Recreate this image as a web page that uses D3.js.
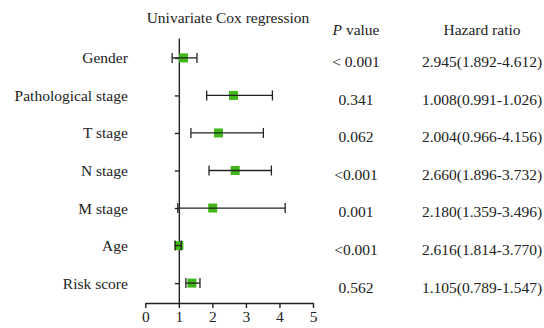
<!DOCTYPE html>
<html>
<head>
<meta charset="utf-8">
<script src="https://cdn.jsdelivr.net/npm/d3@7"></script>
<style>
  body { margin: 0; background: #fff; }
  svg text { font-family: "Liberation Serif", "DejaVu Serif", serif; fill: #222; }
</style>
</head>
<body>
<div id="chart"></div>
<script>
const W = 544, H = 328;
const FS = "15.5px";

const categories = ["Gender", "Pathological stage", "T stage", "N stage", "M stage", "Age", "Risk score"];
// values as plotted in the figure
const estimates = [1.14, 2.63, 2.18, 2.68, 2.01, 1.00, 1.39];
const lowers    = [0.80, 1.83, 1.36, 1.90, 0.97, 0.89, 1.21];
const uppers    = [1.54, 3.79, 3.52, 3.76, 4.17, 1.07, 1.63];
// table text
const pValues = ["< 0.001", "0.341", "0.062", "<0.001", "0.001", "<0.001", "0.562"];
const hrLabels = ["2.945(1.892-4.612)", "1.008(0.991-1.026)", "2.004(0.966-4.156)", "2.660(1.896-3.732)",
                  "2.180(1.359-3.496)", "2.616(1.814-3.770)", "1.105(0.789-1.547)"];
const xTicks = [0, 1, 2, 3, 4, 5];

const svg = d3.select("#chart").append("svg")
  .attr("width", W)
  .attr("height", H);

const x = d3.scaleLinear().domain([0, 5]).range([145.3, 313]);
const y = d3.scalePoint().domain(categories).range([38, 303]).padding(0.53);

// x axis
const xAxis = svg.append("g")
  .attr("transform", `translate(0,303)`)
  .call(d3.axisBottom(x).tickValues(xTicks).tickFormat(d3.format("d")).tickSize(5).tickSizeOuter(0).tickPadding(3));
xAxis.selectAll("text").style("font-size", FS);

// y axis sits at x = 1
const yAxis = svg.append("g")
  .attr("transform", `translate(${x(1)},0)`)
  .call(d3.axisLeft(y).tickSize(4).tickSizeOuter(0).tickPadding(47));
yAxis.selectAll("text").style("font-size", FS);

svg.selectAll(".domain, .tick line").attr("stroke", "#222").attr("stroke-width", 1.4);

const rows = categories.map((c, i) => ({ c, est: estimates[i], lo: lowers[i], hi: uppers[i] }));

// squares
svg.selectAll("rect.pt").data(rows).enter().append("rect")
  .attr("class", "pt")
  .attr("x", d => x(d.est) - 4.5)
  .attr("y", d => y(d.c) - 4.5)
  .attr("width", 9)
  .attr("height", 9)
  .attr("fill", "#42b71a");

// whiskers
const wg = svg.append("g").attr("stroke", "#222").attr("stroke-width", 1.3);
wg.selectAll("line.w").data(rows).enter().append("line")
  .attr("x1", d => x(d.lo)).attr("x2", d => x(d.hi))
  .attr("y1", d => y(d.c)).attr("y2", d => y(d.c));
wg.selectAll("line.lc").data(rows).enter().append("line")
  .attr("x1", d => x(d.lo)).attr("x2", d => x(d.lo))
  .attr("y1", d => y(d.c) - 5).attr("y2", d => y(d.c) + 5);
wg.selectAll("line.hc").data(rows).enter().append("line")
  .attr("x1", d => x(d.hi)).attr("x2", d => x(d.hi))
  .attr("y1", d => y(d.c) - 5).attr("y2", d => y(d.c) + 5);

// title
svg.append("text")
  .attr("x", 228).attr("y", 23)
  .attr("text-anchor", "middle")
  .style("font-size", FS)
  .text("Univariate Cox regression");

// table headers
const ph = svg.append("text")
  .attr("x", 356).attr("y", 35)
  .attr("text-anchor", "middle")
  .style("font-size", FS);
ph.append("tspan").style("font-style", "italic").text("P");
ph.append("tspan").text(" value");

svg.append("text")
  .attr("x", 482).attr("y", 35)
  .attr("text-anchor", "middle")
  .style("font-size", FS)
  .text("Hazard ratio");

// table values
svg.selectAll("text.pv").data(pValues).enter().append("text")
  .attr("class", "pv")
  .attr("x", 356)
  .attr("y", (d, i) => y(categories[i]) + 4)
  .attr("dy", "0.35em")
  .attr("text-anchor", "middle")
  .style("font-size", FS)
  .text(d => d);

svg.selectAll("text.hr").data(hrLabels).enter().append("text")
  .attr("class", "hr")
  .attr("x", 482)
  .attr("y", (d, i) => y(categories[i]) + 4)
  .attr("dy", "0.35em")
  .attr("text-anchor", "middle")
  .style("font-size", FS)
  .text(d => d);
</script>
</body>
</html>
